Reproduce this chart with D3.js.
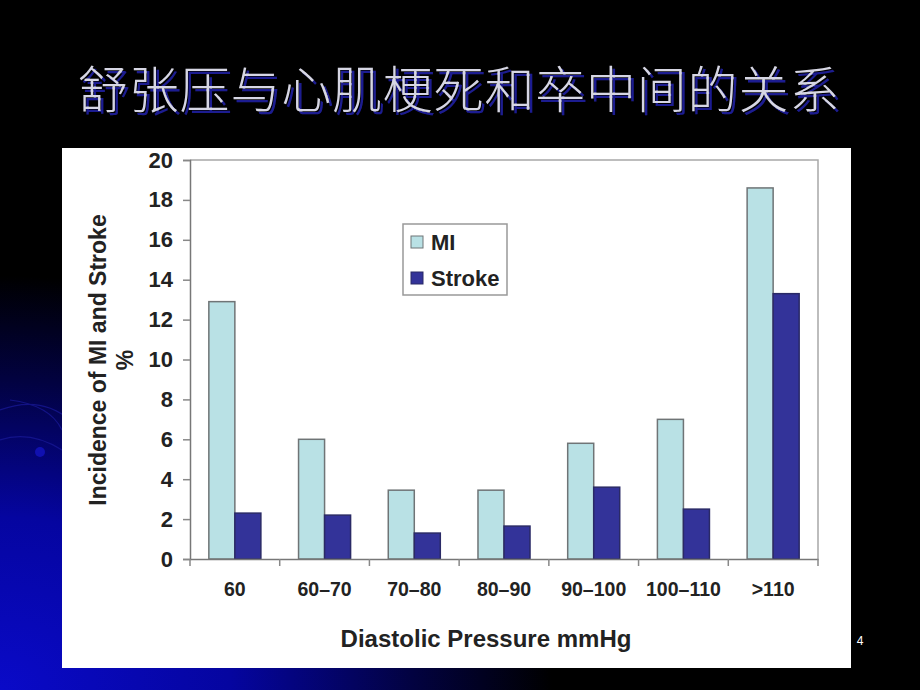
<!DOCTYPE html>
<html><head><meta charset="utf-8">
<script src="https://cdn.jsdelivr.net/npm/d3@7"></script>
<style>html,body{margin:0;padding:0;background:#000;}svg{display:block;}</style>
</head><body>
<svg id="chart" width="920" height="690"></svg>
<script>
const categories = ["60", "60–70", "70–80", "80–90", "90–100", "100–110", ">110"];
const seriesNames = ["MI", "Stroke"];
const miValues = [12.9, 6.0, 3.45, 3.45, 5.8, 7.0, 18.6];
const strokeValues = [2.3, 2.2, 1.3, 1.65, 3.6, 2.5, 13.3];
const yTicks = [0, 2, 4, 6, 8, 10, 12, 14, 16, 18, 20];
const titleText = "舒张压与心肌梗死和卒中间的关系";
const yTitle = ["Incidence of MI and Stroke", "%"];
const xTitle = "Diastolic Pressure mmHg";
const pageNum = "4";

(function(){
const svg = d3.select("#chart");
const W = 920, H = 690;
const defs = svg.append("defs");
const rg = defs.append("radialGradient").attr("id","bg").attr("cx",0).attr("cy",1).attr("r",1)
  .attr("gradientUnits","objectBoundingBox");
rg.append("stop").attr("offset",0).attr("stop-color","#0a0ac8");
rg.append("stop").attr("offset",0.25).attr("stop-color","#0505a0");
rg.append("stop").attr("offset",0.45).attr("stop-color","#020240");
rg.append("stop").attr("offset",0.6).attr("stop-color","#000");
const sh = defs.append("filter").attr("id","shadow").attr("x","-5%").attr("y","-20%").attr("width","110%").attr("height","140%");
sh.append("feDropShadow").attr("dx",3).attr("dy",3).attr("stdDeviation",0.6).attr("flood-color","#1c1c90").attr("flood-opacity",1);

svg.append("rect").attr("width",W).attr("height",H).attr("fill","#000");
svg.append("rect").attr("width",W).attr("height",H).attr("fill","url(#bg)");
const deco = svg.append("g").attr("fill","none").attr("stroke","#1a1a9a").attr("stroke-width",1.2).attr("opacity",0.7);
deco.append("path").attr("d","M0,410 Q40,395 70,420");
deco.append("path").attr("d","M0,440 Q30,430 62,450");
deco.append("path").attr("d","M10,400 Q50,405 62,430");
svg.append("circle").attr("cx",40).attr("cy",452).attr("r",5).attr("fill","#1010b0");

svg.append("text").attr("x",459).attr("y",108).attr("text-anchor","middle")
  .attr("font-family","Noto Sans CJK SC").attr("font-weight",300).attr("font-size",50)
  .attr("letter-spacing",0.8).attr("fill","#d6d6e4").attr("filter","url(#shadow)")
  .text(titleText);

svg.append("rect").attr("x",62).attr("y",148).attr("width",789).attr("height",520).attr("fill","#fff");

const pLeft=190, pRight=818, pTop=160, pBottom=559;
const y = d3.scaleLinear().domain([0,20]).range([pBottom, pTop]);
const x0 = d3.scaleBand().domain(categories).range([pLeft,pRight]).paddingInner(0.42).paddingOuter(0.21);
const x1 = d3.scaleBand().domain(seriesNames).range([0, x0.bandwidth()]);
const colors = {MI:"#b9e1e5", Stroke:"#333399"};
const strokes = {MI:"#6f7476", Stroke:"#2a2a66"};
const FONT = "Liberation Sans, Arial";

svg.append("path").attr("d",`M${pLeft},${pTop}H${pRight}V${pBottom}`).attr("fill","none").attr("stroke","#a8a8a8").attr("stroke-width",1.5);

const data = categories.map((c,i)=>({cat:c, MI:miValues[i], Stroke:strokeValues[i]}));
const g = svg.append("g");
const groups = g.selectAll("g.grp").data(data).join("g").attr("class","grp")
  .attr("transform", d=>`translate(${x0(d.cat)},0)`);
groups.selectAll("rect").data(d=>seriesNames.map(s=>({s, v:d[s]}))).join("rect")
  .attr("x", d=>x1(d.s)).attr("width", x1.bandwidth())
  .attr("y", d=>y(d.v)).attr("height", d=>pBottom - y(d.v))
  .attr("fill", d=>colors[d.s]).attr("stroke", d=>strokes[d.s]).attr("stroke-width",1.5);

const yAxis = svg.append("g").attr("transform",`translate(${pLeft},0)`)
  .call(d3.axisLeft(y).tickValues(yTicks).tickSize(7).tickPadding(10).tickFormat(d3.format("d")));
yAxis.select(".domain").attr("stroke","#777").attr("stroke-width",1.5);
yAxis.selectAll(".tick line").attr("stroke","#888").attr("stroke-width",1.5);
yAxis.selectAll("text").attr("font-family",FONT).attr("font-weight","bold")
  .attr("font-size",22).attr("fill","#222");

const xAxis = svg.append("g").attr("transform",`translate(0,${pBottom})`)
  .call(d3.axisBottom(x0).tickSize(0).tickPadding(23));
xAxis.select(".domain").attr("stroke","#777").attr("stroke-width",1.5);
xAxis.selectAll("text").attr("font-family",FONT).attr("font-weight","bold")
  .attr("font-size",19.5).attr("fill","#222");
const bounds = categories.map(c=>x0(c)-x0.step()*x0.paddingInner()/2).concat([pRight]);
bounds[0] = pLeft;
svg.append("g").selectAll("line").data(bounds).join("line")
  .attr("x1",d=>d).attr("x2",d=>d).attr("y1",pBottom).attr("y2",pBottom+7)
  .attr("stroke","#888").attr("stroke-width",1.5);

const yt = svg.append("text").attr("transform","translate(106,360) rotate(-90)")
  .attr("text-anchor","middle").attr("font-family",FONT).attr("font-weight","bold")
  .attr("font-size",23).attr("fill","#222");
yt.append("tspan").attr("x",0).attr("y",0).text(yTitle[0]);
yt.append("tspan").attr("x",0).attr("y",27).text(yTitle[1]);
svg.append("text").attr("x",486).attr("y",647).attr("text-anchor","middle")
  .attr("font-family",FONT).attr("font-weight","bold").attr("font-size",24)
  .attr("fill","#222").text(xTitle);

const lg = svg.append("g").attr("transform","translate(403,224)");
lg.append("rect").attr("width",104).attr("height",71).attr("fill","#fff").attr("stroke","#999").attr("stroke-width",1.5);
seriesNames.forEach((s,i)=>{
  lg.append("rect").attr("x",8).attr("y",12+i*36).attr("width",12).attr("height",12)
    .attr("fill",colors[s]).attr("stroke",strokes[s]).attr("stroke-width",1);
  lg.append("text").attr("x",28).attr("y",26+i*36).attr("font-family",FONT)
    .attr("font-weight","bold").attr("font-size",22).attr("fill","#222").text(s);
});

svg.append("text").attr("x",860).attr("y",645).attr("text-anchor","middle")
  .attr("font-family",FONT).attr("font-size",12).attr("fill","#fff").text(pageNum);
})();
</script>
</body></html>
